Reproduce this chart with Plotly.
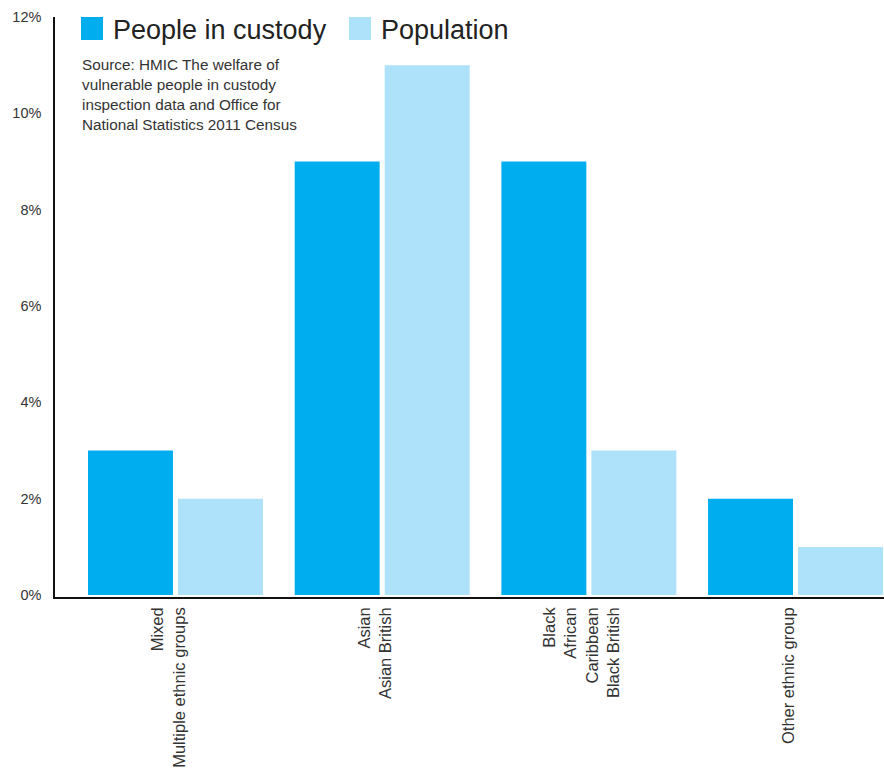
import plotly.graph_objects as go

categories = [
    "Mixed<br>Multiple ethnic groups",
    "Asian<br>Asian British",
    "Black<br>African<br>Caribbean<br>Black British",
    "Other ethnic group",
]
custody = [3, 9, 9, 2]
population = [2, 11, 3, 1]
series_names = ["People in custody", "Population"]
colors = ["#00AEEF", "#AEE1FA"]
y_ticks = [0, 2, 4, 6, 8, 10, 12]
y_tick_labels = [f"{v}%" for v in y_ticks]
source_text = ("Source: HMIC The welfare of<br>vulnerable people in custody<br>"
               "inspection data and Office for<br>National Statistics 2011 Census")

FONT = "Liberation Sans, Arial, sans-serif"
x_idx = list(range(len(categories)))
PW, PH = 829, 580
LABEL_SHIFT = 0.034  # category labels sit slightly left of the group centre

fig = go.Figure()
fig.add_trace(go.Bar(x=x_idx, y=custody, name=series_names[0],
                     marker=dict(color=colors[0], line=dict(width=0)), showlegend=False))
fig.add_trace(go.Bar(x=x_idx, y=population, name=series_names[1],
                     marker=dict(color=colors[1], line=dict(width=0)), showlegend=False))

# legend drawn as swatches + text (large squares like the reference)
sw_x = [26 / PW, 294 / PW]
for i, name in enumerate(series_names):
    x0 = sw_x[i]
    fig.add_shape(type="rect", xref="paper", yref="paper",
                  x0=x0, x1=x0 + 22 / PW, y0=1 - 23 / PH, y1=1.0,
                  fillcolor=colors[i], line=dict(width=0))
    fig.add_annotation(text=name, xref="paper", yref="paper",
                       x=x0 + 30 / PW, y=1 + 4 / PH, xanchor="left", yanchor="top",
                       showarrow=False, font=dict(family=FONT, size=27, color="#222"))

fig.add_annotation(text=source_text, xref="paper", yref="paper",
                   x=25 / PW, y=1 - 37 / PH, xanchor="left", yanchor="top", align="left",
                   showarrow=False, font=dict(family=FONT, size=15.3, color="#333"))

fig.update_layout(
    width=884, height=769,
    margin=dict(l=55, r=0, t=17, b=172),
    barmode="group", bargap=0.129, bargroupgap=0.056,
    plot_bgcolor="white", paper_bgcolor="white",
    font=dict(family=FONT, size=14, color="#333"),
    xaxis=dict(tickmode="array", tickvals=[i - LABEL_SHIFT for i in x_idx],
               ticktext=categories, tickangle=-90,
               range=[-0.583, 3.428], showgrid=False, zeroline=False,
               showline=True, linecolor="#111", linewidth=1.5,
               ticks="", tickfont=dict(size=16.5, color="#333"), ticklabelstandoff=2),
    yaxis=dict(range=[-0.04, 12], tickvals=y_ticks, ticktext=y_tick_labels,
               showgrid=False, zeroline=False, showline=True, linecolor="#111",
               linewidth=1.5, ticks="", ticklabelstandoff=9,
               tickfont=dict(size=14.5, color="#333")),
)

fig.write_html("out.html")
